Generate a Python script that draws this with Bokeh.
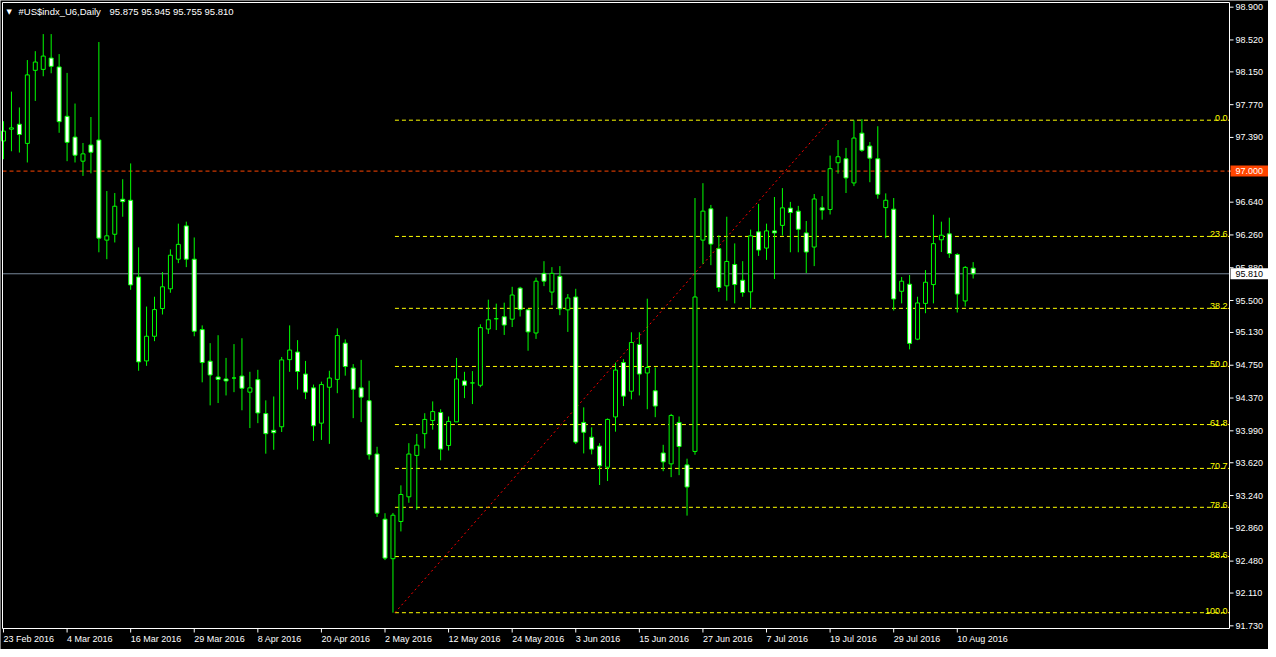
from bokeh.plotting import figure
from bokeh.models import Range1d
from bokeh.embed import file_html
from bokeh.resources import INLINE
from bokeh.core.properties import value

# ---------------- data ----------------
opens = [97.349, 97.486, 97.543, 97.321, 98.168, 98.179, 98.310, 98.207, 97.635, 97.394,
         97.115, 97.303, 97.360, 96.200, 96.268, 96.674, 96.662, 95.773, 94.800, 95.086,
         95.407, 95.636, 95.979, 96.365, 95.979, 95.163, 94.797, 94.614, 94.591, 94.602,
         94.625, 94.438, 94.583, 94.190, 93.996, 94.037, 94.815, 94.903, 94.648, 94.488,
         94.079, 94.495, 94.586, 95.006, 94.717, 94.488, 94.339, 93.721, 92.966, 92.508,
         92.939, 93.225, 93.705, 93.957, 94.110, 94.202, 93.820, 94.094, 94.568, 94.545,
         94.518, 95.170, 95.289, 95.312, 95.284, 95.644, 95.392, 95.124, 95.815, 95.598,
         95.781, 95.392, 95.541, 94.087, 93.916, 93.813, 93.568, 94.151, 94.781, 94.449,
         94.991, 94.660, 94.454, 93.733, 93.607, 94.087, 93.595, 93.751, 96.200, 96.563,
         96.101, 95.670, 95.918, 95.735, 95.601, 96.296, 96.108, 96.307, 96.371, 96.571,
         96.536, 96.284, 96.120, 96.574, 96.555, 97.097, 97.143, 96.863, 97.440, 97.291,
         97.143, 96.577, 96.559, 95.607, 95.689, 95.052, 95.467, 95.685, 96.204, 96.273,
         96.033, 95.495, 95.875]
highs = [97.578, 97.921, 97.738, 98.287, 98.390, 98.588, 98.588, 98.356, 98.138, 97.783,
         97.326, 97.627, 98.496, 96.769, 96.746, 96.906, 97.089, 96.116, 95.430, 95.544,
         95.830, 96.093, 96.391, 96.414, 96.231, 95.212, 95.006, 95.098, 94.835, 94.995,
         95.063, 94.674, 94.697, 94.343, 94.388, 94.846, 95.212, 95.041, 94.800, 94.526,
         94.560, 94.686, 95.178, 95.049, 94.763, 94.812, 94.571, 93.805, 93.035, 93.038,
         93.358, 93.847, 93.954, 94.194, 94.331, 94.240, 94.156, 94.835, 94.674, 94.682,
         95.224, 95.510, 95.464, 95.475, 95.659, 95.659, 95.395, 95.765, 95.956, 95.887,
         95.899, 95.575, 95.636, 94.262, 94.030, 93.847, 94.133, 94.781, 94.820, 95.132,
         95.132, 95.521, 94.724, 93.828, 94.186, 94.156, 93.667, 96.688, 96.860, 96.608,
         96.257, 96.471, 96.162, 95.956, 96.322, 96.620, 96.391, 96.700, 96.803, 96.643,
         96.597, 96.422, 96.734, 96.711, 97.180, 97.360, 97.269, 97.589, 97.604, 97.337,
         97.520, 96.742, 96.688, 95.773, 95.796, 95.544, 95.853, 96.494, 96.414, 96.460,
         96.048, 95.899, 95.945]
lows = [97.138, 97.230, 97.215, 97.100, 97.813, 98.099, 98.134, 97.444, 97.115, 97.100,
        96.944, 96.974, 96.059, 95.979, 96.173, 96.471, 95.624, 94.686, 94.743, 95.029,
        95.338, 95.590, 95.933, 95.887, 95.086, 94.552, 94.285, 94.312, 94.400, 94.438,
        94.228, 94.022, 94.079, 93.725, 93.770, 93.976, 94.674, 94.468, 94.357, 93.873,
        93.885, 93.839, 94.426, 94.629, 94.137, 94.091, 93.656, 92.992, 92.492, 91.882,
        92.824, 93.156, 93.076, 93.785, 94.003, 93.648, 93.762, 94.094, 94.369, 94.300,
        94.495, 95.113, 95.158, 95.101, 95.193, 95.315, 94.918, 95.055, 95.667, 95.445,
        95.330, 95.136, 93.836, 93.728, 93.717, 93.362, 93.408, 93.980, 94.277, 94.354,
        94.400, 94.240, 94.148, 93.522, 93.453, 93.476, 93.007, 93.713, 95.925, 95.910,
        95.601, 95.498, 95.467, 95.544, 95.407, 96.017, 95.971, 95.750, 96.254, 96.059,
        96.059, 95.819, 95.899, 96.437, 96.497, 96.971, 96.746, 96.826, 97.223, 96.871,
        96.680, 96.223, 95.384, 95.467, 94.934, 95.041, 95.353, 95.467, 96.062, 95.994,
        95.361, 95.430, 95.755]
closes = [97.463, 97.501, 97.424, 98.115, 98.264, 98.333, 98.214, 97.573, 97.333, 97.184,
          97.200, 97.218, 96.223, 96.250, 96.593, 96.646, 95.681, 94.789, 95.086, 95.395,
          95.659, 96.025, 96.151, 95.979, 95.144, 94.781, 94.637, 94.586, 94.568, 94.602,
          94.483, 94.488, 94.197, 93.957, 93.968, 94.812, 94.926, 94.678, 94.438, 94.048,
          94.526, 94.602, 95.094, 94.735, 94.472, 94.380, 93.713, 93.035, 92.515, 93.012,
          93.252, 93.721, 93.824, 94.122, 94.213, 93.778, 94.099, 94.591, 94.518, 94.545,
          95.186, 95.277, 95.289, 95.216, 95.564, 95.395, 95.136, 95.724, 95.724, 95.815,
          95.403, 95.529, 93.859, 93.973, 93.778, 93.584, 94.122, 94.694, 94.392, 95.014,
          94.648, 94.724, 94.277, 93.630, 94.168, 93.808, 93.339, 95.541, 96.536, 96.154,
          95.651, 95.953, 95.685, 95.593, 96.250, 96.085, 96.307, 96.284, 96.574, 96.520,
          96.326, 96.062, 96.677, 96.548, 97.028, 97.166, 96.921, 97.383, 97.241, 97.150,
          96.731, 96.662, 95.518, 95.724, 95.003, 95.472, 95.712, 96.159, 96.257, 96.044,
          95.575, 95.884, 95.810]

date_labels = ["23 Feb 2016", "4 Mar 2016", "16 Mar 2016", "29 Mar 2016", "8 Apr 2016",
               "20 Apr 2016", "2 May 2016", "12 May 2016", "24 May 2016", "3 Jun 2016",
               "15 Jun 2016", "27 Jun 2016", "7 Jul 2016", "19 Jul 2016", "29 Jul 2016",
               "10 Aug 2016"]
date_label_every = 8

price_ticks = [98.900, 98.520, 98.150, 97.770, 97.390, 97.000, 96.640, 96.260, 95.880,
               95.500, 95.130, 94.750, 94.370, 93.990, 93.620, 93.240, 92.860, 92.480,
               92.110, 91.730]

fib_levels = [0.0, 23.6, 38.2, 50.0, 61.8, 70.7, 78.6, 88.6, 100.0]
fib_high = 97.590
fib_low = 91.882
fib_low_bar = 49
fib_high_bar = 104

level_price = 97.000
bid_price = 95.810
symbol_text = "#US$indx_U6,Daily"
ohlc_text = "95.875 95.945 95.755 95.810"

# ---------------- layout ----------------
W, H = 1268, 649
CHART_L_PX, CHART_R_PX = 2, 1229
CHART_T_PX, CHART_B_PX = 2, 628
chart_left, chart_right = -0.125, 154.25      # bar-index units
chart_top, chart_bot = 98.954, 91.699         # price units

ppb = (CHART_R_PX - CHART_L_PX) / (chart_right - chart_left)
ppu = (CHART_B_PX - CHART_T_PX) / (chart_top - chart_bot)
x_lo = chart_left - CHART_L_PX / ppb
x_hi = chart_right + (W - CHART_R_PX) / ppb
y_lo = chart_bot - (H - CHART_B_PX) / ppu
y_hi = chart_top + CHART_T_PX / ppu

FONT = value("Liberation Sans")
GREEN = "#00FF00"

p = figure(width=W, height=H, output_backend="svg", toolbar_location=None,
           x_range=Range1d(x_lo, x_hi), y_range=Range1d(y_lo, y_hi),
           x_axis_location=None, y_axis_location=None, min_border=0)
p.title.visible = False
p.background_fill_color = "black"
p.border_fill_color = "black"
p.outline_line_color = None
p.xgrid.visible = False
p.ygrid.visible = False

n = len(opens)
idx = list(range(n))

# horizontal level line and bid line
p.segment(x0=[chart_left], y0=[level_price], x1=[chart_right], y1=[level_price],
          line_color="#FF4500", line_dash="4 3", line_width=1)
p.segment(x0=[chart_left], y0=[bid_price], x1=[chart_right], y1=[bid_price],
          line_color="#778899", line_width=1)

# fibonacci levels
fib_prices = [fib_high - lv / 100.0 * (fib_high - fib_low) for lv in fib_levels]
p.segment(x0=[fib_low_bar + 0.25] * len(fib_levels), y0=fib_prices,
          x1=[chart_right] * len(fib_levels), y1=fib_prices,
          line_color="#FFFF00", line_dash="4 3", line_width=1)
p.text(x=[chart_right] * len(fib_levels), y=fib_prices,
       text=[f"{lv:.1f}" for lv in fib_levels],
       text_align="right", text_baseline="alphabetic", x_offset=-2, y_offset=-2,
       text_color="#FFFF00", text_font=FONT, text_font_size="9px")

# fib trend line
p.line(x=[fib_low_bar + 0.25, fib_high_bar], y=[fib_low, fib_high], line_color="#FF0000",
       line_dash="2 3", line_width=1)

# candles
p.segment(x0=idx, y0=lows, x1=idx, y1=highs, line_color=GREEN, line_width=1)
tops = [max(o, c) for o, c in zip(opens, closes)]
bots = [min(o, c) for o, c in zip(opens, closes)]
fills = ["white" if c < o else "black" for o, c in zip(opens, closes)]
p.vbar(x=idx, width=0.5, top=tops, bottom=bots, fill_color=fills,
       line_color=GREEN, line_width=1)

# chart frame
p.quad(left=[chart_left], right=[chart_right], top=[chart_top], bottom=[chart_bot],
       fill_color=None, line_color="white", line_width=1)

# price axis (right)
tick_len_x = 4 / ppb
p.segment(x0=[chart_right] * len(price_ticks), y0=price_ticks,
          x1=[chart_right + tick_len_x] * len(price_ticks), y1=price_ticks,
          line_color="white", line_width=1)
p.text(x=[chart_right] * len(price_ticks), y=price_ticks,
       text=[f"{t:.3f}" for t in price_ticks], x_offset=6,
       text_align="left", text_baseline="middle", text_color="white",
       text_font=FONT, text_font_size="9px")

# date axis (bottom)
tick_idx = [i * date_label_every for i in range(len(date_labels))]
tick_len_y = 4 / ppu
p.segment(x0=tick_idx, y0=[chart_bot] * len(tick_idx), x1=tick_idx,
          y1=[chart_bot - tick_len_y] * len(tick_idx), line_color="white", line_width=1)
p.text(x=tick_idx, y=[chart_bot] * len(tick_idx), text=date_labels, x_offset=0,
       y_offset=5, text_align="left", text_baseline="top", text_color="white",
       text_font=FONT, text_font_size="9px")

# price boxes on the axis
box_half = 5.5 / ppu
box_left = chart_right + 1 / ppb
p.quad(left=[box_left, box_left], right=[x_hi, x_hi],
       top=[level_price + box_half, bid_price + box_half],
       bottom=[level_price - box_half, bid_price - box_half],
       fill_color=["#FF4500", "white"], line_color=None)
p.text(x=[chart_right, chart_right], y=[level_price, bid_price],
       text=[f"{level_price:.3f}", f"{bid_price:.3f}"], x_offset=6,
       text_align="left", text_baseline="middle", text_color=["white", "black"],
       text_font=FONT, text_font_size="9px")

# header
p.text(x=[chart_left], y=[chart_top], text=["\u25BC"], x_offset=4, y_offset=5,
       text_align="left", text_baseline="top", text_color="white",
       text_font=value("DejaVu Sans"), text_font_size="7px")
p.text(x=[chart_left], y=[chart_top], text=[symbol_text], x_offset=16, y_offset=3,
       text_align="left", text_baseline="top", text_color="white",
       text_font=FONT, text_font_size="9.5px")
p.text(x=[chart_left], y=[chart_top], text=[ohlc_text], x_offset=107, y_offset=3,
       text_align="left", text_baseline="top", text_color="white",
       text_font=FONT, text_font_size="9.5px")

open("out.html", "w").write(file_html(p, INLINE))
